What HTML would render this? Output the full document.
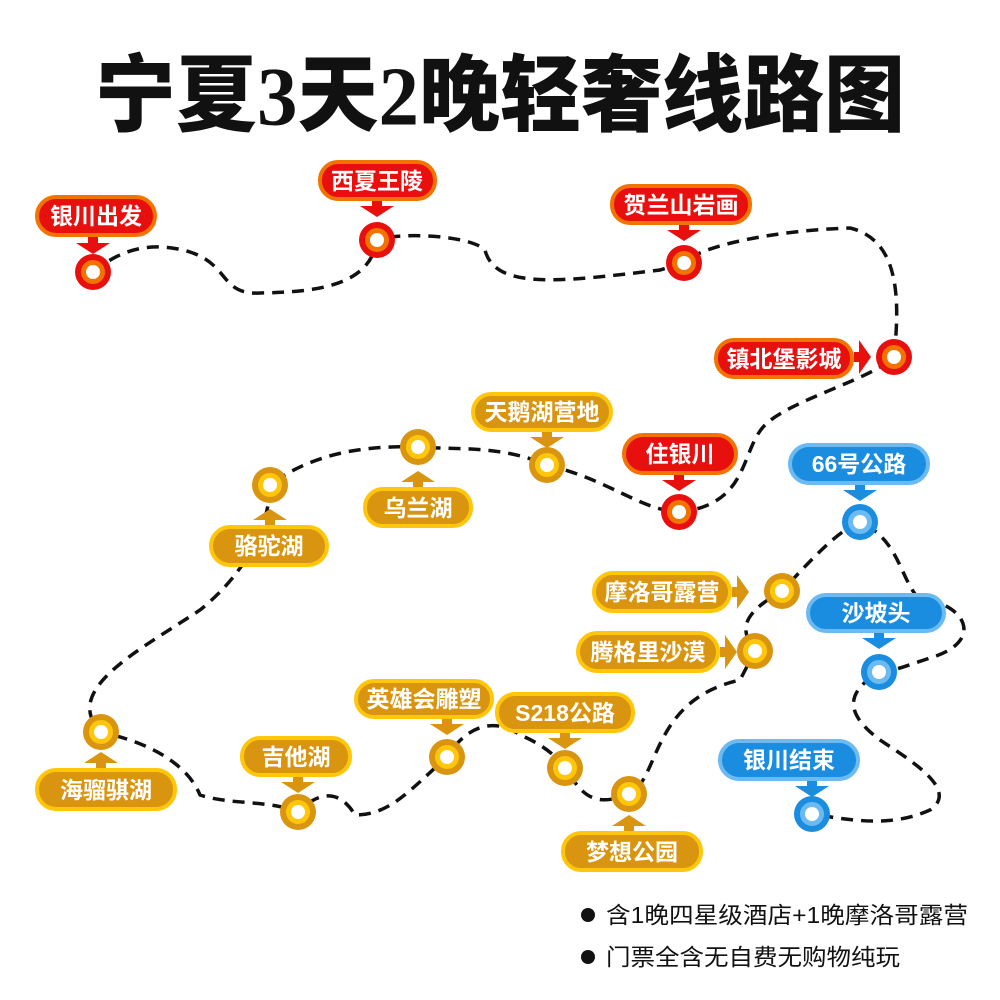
<!DOCTYPE html>
<html><head><meta charset="utf-8"><style>
html,body{margin:0;padding:0;background:#fff;}
svg{display:block}
.t{font-family:"Liberation Sans","Noto Sans CJK SC",sans-serif;font-weight:bold;fill:#fff;font-size:23px;text-anchor:middle;dominant-baseline:central}
.r rect{fill:#e8100f;stroke:#f27300;stroke-width:4}
.g rect{fill:#d99510;stroke:#ffc60a;stroke-width:4}
.b rect{fill:#1a8de0;stroke:#6cbaf2;stroke-width:4}
.r .a{fill:#e8100f}.g .a{fill:#d99510}.b .a{fill:#1a8de0}
</style></head><body>
<svg width="1000" height="1000" viewBox="0 0 1000 1000" xmlns="http://www.w3.org/2000/svg">
<text x="500" y="97" text-anchor="middle" dominant-baseline="central" font-family="'Liberation Serif','Noto Sans CJK SC',sans-serif" font-weight="900" font-size="84" fill="#111" textLength="810" lengthAdjust="spacingAndGlyphs">宁夏3天2晚轻奢线路图</text>

<path d="M93,272 C120,250 150,240 190,252 C230,265 220,295 260,293 C320,292 370,285 377,240 C400,232 470,235 485,250 C495,290 560,282 660,270 L684,263 C700,245 780,230 850,228 C900,240 900,300 894,357 C870,380 790,400 765,425 C740,450 750,505 679,512 C640,510 610,480 547,465 C500,445 460,450 418,447 C360,445 310,455 270,485 C270,520 250,570 200,610 C140,650 60,690 101,732 C160,745 190,770 200,795 C230,805 270,800 298,812 C320,790 340,790 355,815 C390,815 410,790 447,757 C470,720 500,720 520,735 C545,745 560,760 565,768 C580,790 590,810 629,794 C660,780 650,700 740,680 L755,651 C740,630 740,615 782,591 C820,550 840,530 860,522 C900,540 900,580 920,600 C960,600 990,640 930,658 C900,668 890,672 879,672 C850,690 840,710 880,740 C910,760 960,790 930,810 C890,828 850,820 812,814" fill="none" stroke="#111" stroke-width="3.5" stroke-dasharray="12,8"/>

<!-- nodes -->
<g stroke-width="0">
<g fill="#e8100f"><circle cx="93" cy="272" r="18"/><circle cx="377" cy="240" r="18"/><circle cx="684" cy="263" r="18"/><circle cx="894" cy="357" r="18"/><circle cx="679" cy="512" r="18"/></g>
<g fill="#f27300"><circle cx="93" cy="272" r="12"/><circle cx="377" cy="240" r="12"/><circle cx="684" cy="263" r="12"/><circle cx="894" cy="357" r="12"/><circle cx="679" cy="512" r="12"/></g>
<g fill="#d99510"><circle cx="547" cy="465" r="18"/><circle cx="418" cy="447" r="18"/><circle cx="270" cy="485" r="18"/><circle cx="101" cy="732" r="18"/><circle cx="298" cy="812" r="18"/><circle cx="447" cy="757" r="18"/><circle cx="565" cy="768" r="18"/><circle cx="629" cy="794" r="18"/><circle cx="755" cy="651" r="18"/><circle cx="782" cy="591" r="18"/></g>
<g fill="#ffc60a"><circle cx="547" cy="465" r="12"/><circle cx="418" cy="447" r="12"/><circle cx="270" cy="485" r="12"/><circle cx="101" cy="732" r="12"/><circle cx="298" cy="812" r="12"/><circle cx="447" cy="757" r="12"/><circle cx="565" cy="768" r="12"/><circle cx="629" cy="794" r="12"/><circle cx="755" cy="651" r="12"/><circle cx="782" cy="591" r="12"/></g>
<g fill="#1a8de0"><circle cx="860" cy="522" r="18"/><circle cx="879" cy="672" r="18"/><circle cx="812" cy="814" r="18"/></g>
<g fill="#6cbaf2"><circle cx="860" cy="522" r="12"/><circle cx="879" cy="672" r="12"/><circle cx="812" cy="814" r="12"/></g>
<g fill="#fff"><circle cx="93" cy="272" r="7"/><circle cx="377" cy="240" r="7"/><circle cx="684" cy="263" r="7"/><circle cx="894" cy="357" r="7"/><circle cx="679" cy="512" r="7"/><circle cx="547" cy="465" r="7"/><circle cx="418" cy="447" r="7"/><circle cx="270" cy="485" r="7"/><circle cx="101" cy="732" r="7"/><circle cx="298" cy="812" r="7"/><circle cx="447" cy="757" r="7"/><circle cx="565" cy="768" r="7"/><circle cx="629" cy="794" r="7"/><circle cx="755" cy="651" r="7"/><circle cx="782" cy="591" r="7"/><circle cx="860" cy="522" r="7"/><circle cx="879" cy="672" r="7"/><circle cx="812" cy="814" r="7"/></g>
</g>

<!-- labels -->
<g class="r">
<rect x="37" y="197" width="118" height="38" rx="19"/><path class="a" d="M88,237h10v6h12l-17,11l-17,-11h12z"/><text class="t" x="96" y="216">银川出发</text>
<rect x="320" y="162" width="115" height="37" rx="18"/><path class="a" d="M372,201h10v5h12l-17,11l-17,-11h12z"/><text class="t" x="377" y="181">西夏王陵</text>
<rect x="612" y="186" width="138" height="37" rx="18"/><path class="a" d="M679,225h10v5h12l-17,11l-17,-11h12z"/><text class="t" x="681" y="205">贺兰山岩画</text>
<rect x="716" y="340" width="136" height="37" rx="18"/><path class="a" d="M854,352v10h5v12l12,-17l-12,-17v12z"/><text class="t" x="784" y="359">镇北堡影城</text>
<rect x="624" y="435" width="112" height="38" rx="19"/><path class="a" d="M674,475h10v5h12l-17,11l-17,-11h12z"/><text class="t" x="680" y="454">住银川</text>
</g>
<g class="g">
<rect x="473" y="394" width="138" height="36" rx="18"/><path class="a" d="M542,432h10v5h12l-17,11l-17,-11h12z"/><text class="t" x="542" y="412">天鹅湖营地</text>
<rect x="365" y="489" width="106" height="37" rx="18"/><path class="a" d="M413,487h10v-5h12l-17,-11l-17,11h12z"/><text class="t" x="418" y="508">乌兰湖</text>
<rect x="211" y="527" width="116" height="38" rx="19"/><path class="a" d="M265,525h10v-5h12l-17,-11l-17,11h12z"/><text class="t" x="269" y="546">骆驼湖</text>
<rect x="37" y="770" width="138" height="39" rx="19"/><path class="a" d="M96,768h10v-5h12l-17,-11l-17,11h12z"/><text class="t" x="106" y="790">海骝骐湖</text>
<rect x="242" y="738" width="108" height="37" rx="18"/><path class="a" d="M293,777h10v5h12l-17,11l-17,-11h12z"/><text class="t" x="296" y="757">吉他湖</text>
<rect x="356" y="681" width="136" height="36" rx="18"/><path class="a" d="M442,719h10v5h12l-17,11l-17,-11h12z"/><text class="t" x="424" y="699">英雄会雕塑</text>
<rect x="497" y="694" width="136" height="37" rx="18"/><path class="a" d="M560,733h10v5h12l-17,11l-17,-11h12z"/><text class="t" x="565" y="713">S218公路</text>
<rect x="563" y="833" width="138" height="37" rx="18"/><path class="a" d="M624,831h10v-5h12l-17,-11l-17,11h12z"/><text class="t" x="632" y="852">梦想公园</text>
<rect x="594" y="573" width="136" height="38" rx="19"/><path class="a" d="M732,587v10h5v12l12,-17l-12,-17v12z"/><text class="t" x="662" y="592">摩洛哥露营</text>
<rect x="578" y="633" width="140" height="38" rx="19"/><path class="a" d="M720,647v10h5v12l12,-17l-12,-17v12z"/><text class="t" x="648" y="652">腾格里沙漠</text>
</g>
<g class="b">
<rect x="790" y="445" width="138" height="38" rx="19"/><path class="a" d="M855,485h10v5h12l-17,11l-17,-11h12z"/><text class="t" x="859" y="464">66号公路</text>
<rect x="808" y="595" width="136" height="36" rx="18"/><path class="a" d="M874,633h10v5h12l-17,11l-17,-11h12z"/><text class="t" x="876" y="613">沙坡头</text>
<rect x="720" y="741" width="138" height="38" rx="19"/><path class="a" d="M807,781h10v5h12l-17,11l-17,-11h12z"/><text class="t" x="789" y="760">银川结束</text>
</g>

<circle cx="588" cy="915" r="7" fill="#111"/>
<text x="606" y="915" dominant-baseline="central" font-family="'Liberation Sans','Noto Sans CJK SC',sans-serif" font-size="23" fill="#111" textLength="362" lengthAdjust="spacingAndGlyphs">含1晚四星级酒店+1晚摩洛哥露营</text>
<circle cx="588" cy="957" r="7" fill="#111"/>
<text x="606" y="957" dominant-baseline="central" font-family="'Liberation Sans','Noto Sans CJK SC',sans-serif" font-size="23" fill="#111" textLength="294" lengthAdjust="spacingAndGlyphs">门票全含无自费无购物纯玩</text>
</svg>
</body></html>
